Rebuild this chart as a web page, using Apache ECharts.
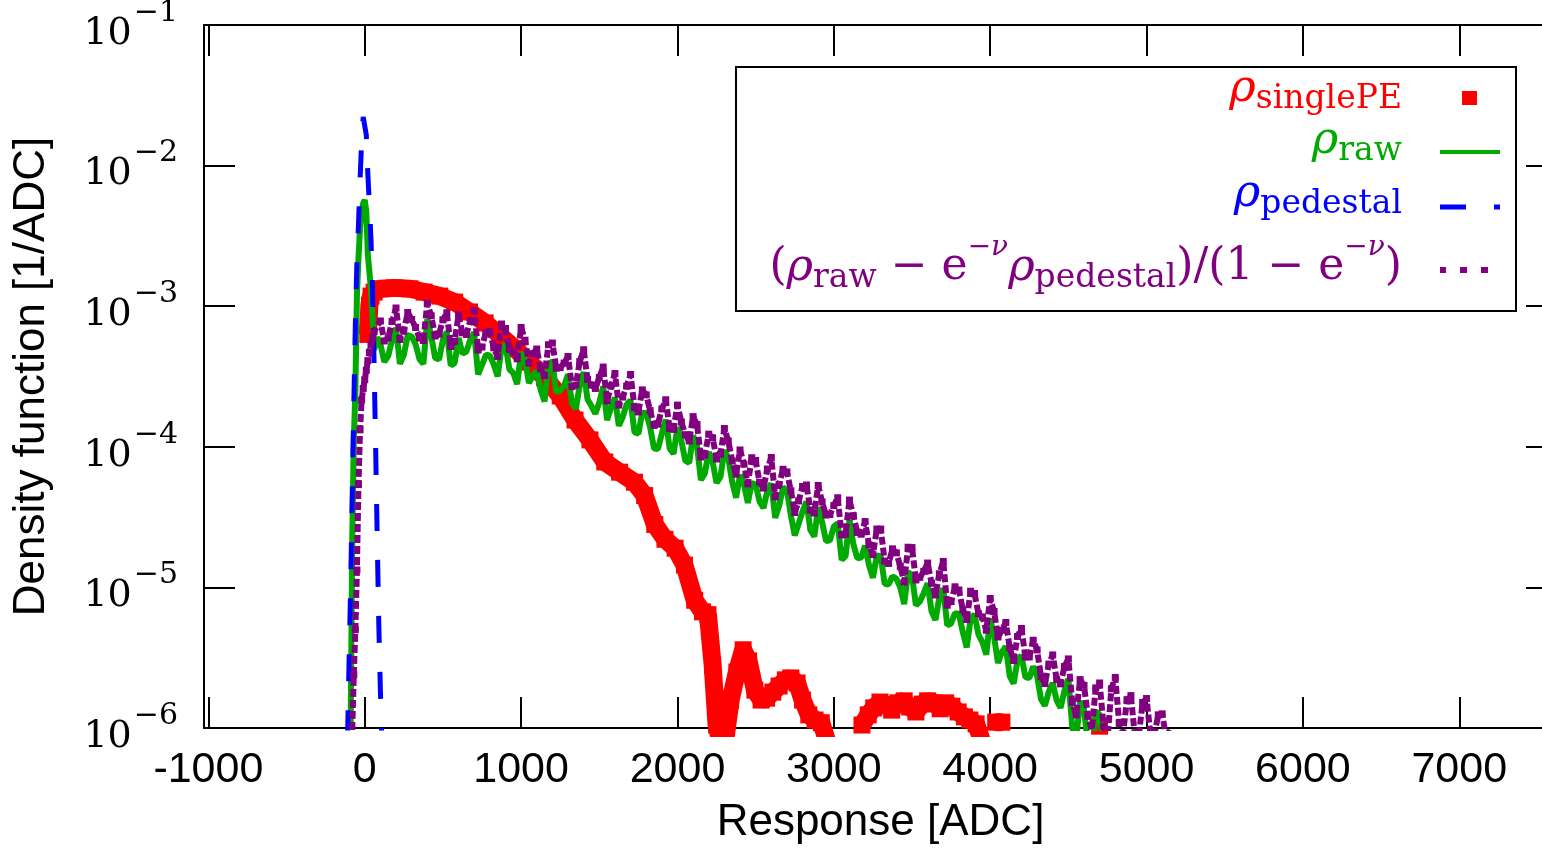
<!DOCTYPE html>
<html>
<head>
<meta charset="utf-8">
<script src="https://cdn.jsdelivr.net/npm/echarts@6.0.0/dist/echarts.min.js"></script>
<style>
html, body { margin: 0; padding: 0; background: #fff; overflow: hidden; }
#chart { width: 1560px; height: 849px; }
</style>
</head>
<body>
<div id="chart"></div>
<script>
// tick values
const xTicks = [-1000, 0, 1000, 2000, 3000, 4000, 5000, 6000, 7000];

// rho_singlePE (big red squares)
const redX = [20, 30, 40, 60, 100, 190, 290, 380, 480, 575, 670, 770, 865, 960, 1055, 1150, 1250, 1345, 1440, 1535,
  1630, 1725, 1790, 1855, 1920, 1985, 2045, 2110, 2160, 2195, 2225, 2250, 2280, 2310, 2340, 2380, 2420, 2455, 2495, 2535,
  2570, 2610, 2650, 2690, 2725, 2765, 2800, 2840, 2880, 2920, 2955, 3000, 3180, 3220, 3255, 3295, 3335, 3370, 3410, 3450,
  3485, 3525, 3565, 3600, 3640, 3680, 3715, 3755, 3795, 3835, 3870, 3910, 3945, 3990, 4035, 4075, 4100, 4700];
const redY = [6.3e-4, 1.02e-3, 1.18e-3, 1.26e-3, 1.33e-3, 1.35e-3, 1.33e-3, 1.26e-3, 1.18e-3, 1.07e-3,
  9.1e-4, 7.6e-4, 6.2e-4, 5.0e-4, 4.0e-4, 3.1e-4, 2.3e-4, 1.55e-4, 1.12e-4, 7.8e-5,
  6.6e-5, 5.6e-5, 4.5e-5, 2.8e-5, 2.2e-5, 1.9e-5, 1.44e-5, 8.1e-6, 6.7e-6, 6.4e-6,
  2.8e-6, 1.05e-6, 7.6e-7, 8.9e-7, 1.58e-6, 2.5e-6, 3.6e-6, 3.0e-6, 1.86e-6, 1.58e-6,
  1.63e-6, 1.80e-6, 1.99e-6, 2.2e-6, 2.27e-6, 2.09e-6, 1.58e-6, 1.24e-6, 1.14e-6, 1.09e-6,
  8.2e-7, null, 1.05e-6, 1.24e-6, 1.39e-6, 1.53e-6, 1.46e-6, 1.34e-6, 1.51e-6, 1.56e-6,
  1.41e-6, 1.30e-6, 1.48e-6, 1.56e-6, 1.51e-6, 1.37e-6, 1.51e-6, 1.43e-6, 1.30e-6, 1.20e-6,
  1.14e-6, 1.07e-6, 8.2e-7, null, 1.10e-6, 1.10e-6, null, 1.03e-6];

// rho_raw (green)
const greenX = [-90, -80, -70, -60, -50, -40, -30, -20, -10, 0, 10, 20, 30, 40, 50, 60, 80,
  100, 125, 150, 175, 200, 225, 250, 275, 300, 325, 350, 375, 400, 425, 450, 475, 500, 525, 550, 575,
  600, 625, 650, 675, 700, 725, 750, 775, 800, 825, 850, 875, 900, 925, 950, 975, 1000, 1025, 1050, 1075,
  1100, 1125, 1150, 1175, 1200, 1225, 1250, 1275, 1300, 1325, 1350, 1375, 1400, 1425, 1450, 1475, 1500, 1525, 1550, 1575,
  1600, 1625, 1650, 1675, 1700, 1725, 1750, 1775, 1800, 1825, 1850, 1875, 1900, 1925, 1950, 1975, 2000, 2025, 2050, 2075,
  2100, 2125, 2150, 2175, 2200, 2225, 2250, 2275, 2300, 2325, 2350, 2375, 2400, 2425, 2450, 2475, 2500, 2525, 2550, 2575,
  2600, 2625, 2650, 2675, 2700, 2725, 2750, 2775, 2800, 2825, 2850, 2875, 2900, 2925, 2950, 2975, 3000, 3025, 3050, 3075,
  3100, 3125, 3150, 3175, 3200, 3225, 3250, 3275, 3300, 3325, 3350, 3375, 3400, 3425, 3450, 3475, 3500, 3525, 3550, 3575,
  3600, 3625, 3650, 3675, 3700, 3725, 3750, 3775, 3800, 3825, 3850, 3875, 3900, 3925, 3950, 3975, 4000, 4025, 4050, 4075,
  4100, 4125, 4150, 4175, 4200, 4225, 4250, 4275, 4300, 4325, 4350, 4375, 4400, 4425, 4450, 4475, 4500, 4525, 4550, 4575,
  4600, 4625, 4650, 4675, 4700, 4725, 4750];
const greenY = [9.7e-7, 2.2e-5, 1.1e-4, 2.5e-4, 1.2e-3, 2.2e-3, 3.6e-3, 4.7e-3, 5.4e-3, 5.7e-3,
  4.7e-3, 2.3e-3, 1.75e-3, 1.3e-3, 8.2e-4, 4.9e-4, 6.0e-4,
  5.39e-4, 4.02e-4, 4.43e-4, 5.76e-4, 7.00e-4, 3.89e-4, 4.50e-4, 6.22e-4, 6.09e-4, 5.37e-4,
  4.21e-4, 3.88e-4, 8.07e-4, 6.16e-4, 4.29e-4, 4.17e-4, 5.77e-4, 6.56e-4, 3.79e-4, 3.94e-4,
  5.94e-4, 4.59e-4, 4.76e-4, 5.79e-4, 6.51e-4, 3.27e-4, 3.82e-4, 4.51e-4, 4.46e-4, 3.85e-4,
  3.17e-4, 5.08e-4, 5.34e-4, 3.56e-4, 3.35e-4, 2.79e-4, 4.69e-4, 4.18e-4, 2.84e-4, 3.21e-4,
  3.46e-4, 2.54e-4, 2.10e-4, 3.94e-4, 4.01e-4, 2.43e-4, 2.51e-4, 2.72e-4, 3.27e-4, 2.04e-4,
  1.86e-4, 2.75e-4, 3.40e-4, 2.17e-4, 1.95e-4, 1.72e-4, 2.07e-4, 2.69e-4, 1.55e-4, 1.90e-4,
  2.24e-4, 1.41e-4, 1.63e-4, 2.00e-4, 2.14e-4, 1.27e-4, 1.24e-4, 1.75e-4, 1.74e-4, 1.38e-4,
  9.74e-5, 9.66e-5, 1.24e-4, 1.56e-4, 9.73e-5, 8.91e-5, 1.38e-4, 1.10e-4, 7.97e-5, 7.70e-5,
  1.20e-4, 1.02e-4, 5.80e-5, 6.47e-5, 9.16e-5, 7.77e-5, 5.53e-5, 6.11e-5, 9.42e-5, 8.36e-5,
  5.62e-5, 4.34e-5, 6.30e-5, 5.43e-5, 3.99e-5, 5.52e-5, 5.39e-5, 4.09e-5, 3.67e-5, 4.87e-5,
  5.48e-5, 3.12e-5, 3.80e-5, 5.12e-5, 4.93e-5, 3.26e-5, 2.34e-5, 2.84e-5, 3.47e-5, 4.07e-5,
  2.56e-5, 2.30e-5, 3.71e-5, 2.92e-5, 2.14e-5, 2.16e-5, 2.71e-5, 2.86e-5, 1.57e-5, 1.67e-5,
  3.01e-5, 2.03e-5, 1.61e-5, 1.63e-5, 1.98e-5, 1.44e-5, 1.17e-5, 1.69e-5, 1.67e-5, 1.06e-5,
  1.05e-5, 1.20e-5, 1.15e-5, 1.00e-5, 7.61e-6, 1.29e-5, 1.21e-5, 7.46e-6, 7.94e-6, 9.10e-6,
  1.07e-5, 6.74e-6, 5.86e-6, 8.50e-6, 9.82e-6, 5.38e-6, 5.54e-6, 6.57e-6, 6.47e-6, 4.79e-6,
  3.74e-6, 6.01e-6, 6.42e-6, 4.62e-6, 4.09e-6, 3.32e-6, 6.01e-6, 4.45e-6, 2.90e-6, 3.47e-6,
  3.80e-6, 2.34e-6, 2.07e-6, 3.05e-6, 3.27e-6, 2.30e-6, 2.27e-6, 2.74e-6, 2.34e-6, 1.60e-6,
  1.44e-6, 1.82e-6, 2.09e-6, 1.57e-6, 1.39e-6, 1.84e-6, 2.24e-6, 1.00e-6, 8.4e-7, 1.55e-6,
  1.36e-6, 7.6e-7, 6.5e-7, 1.31e-6, 1.25e-6, 7.4e-7, 5.5e-7];

// rho_pedestal (blue dashed)
const blueX = [-110, -100, -90, -80, -70, -60, -50, -40, -30, -20, -10, 0, 10, 20, 30, 40, 50, 60, 70, 80, 90, 100, 110];
const blueY = [8.6e-7, 3.05e-6, 1.04e-5, 4.5e-5, 1.98e-4, 7.5e-4, 2.06e-3, 3.8e-3, 7.9e-3, 1.47e-2, 2.22e-2, 2.18e-2,
  1.65e-2, 8.6e-3, 5.25e-3, 2.96e-3, 1.30e-3, 3.8e-4, 9.5e-5, 2.17e-5, 5.4e-6, 1.86e-6, 7.6e-7];

// (rho_raw - e^-nu rho_pedestal)/(1 - e^-nu) (purple dotted)
const purpleX = [-80, -70, -60, -50, -40, -30, -20, -10, 0, 10, 20, 30, 40, 50, 60,
  100, 125, 150, 175, 200, 225, 250, 275, 300, 325, 350, 375, 400, 425, 450, 475, 500, 525, 550, 575,
  600, 625, 650, 675, 700, 725, 750, 775, 800, 825, 850, 875, 900, 925, 950, 975, 1000, 1025, 1050, 1075,
  1100, 1125, 1150, 1175, 1200, 1225, 1250, 1275, 1300, 1325, 1350, 1375, 1400, 1425, 1450, 1475, 1500, 1525, 1550, 1575,
  1600, 1625, 1650, 1675, 1700, 1725, 1750, 1775, 1800, 1825, 1850, 1875, 1900, 1925, 1950, 1975, 2000, 2025, 2050, 2075,
  2100, 2125, 2150, 2175, 2200, 2225, 2250, 2275, 2300, 2325, 2350, 2375, 2400, 2425, 2450, 2475, 2500, 2525, 2550, 2575,
  2600, 2625, 2650, 2675, 2700, 2725, 2750, 2775, 2800, 2825, 2850, 2875, 2900, 2925, 2950, 2975, 3000, 3025, 3050, 3075,
  3100, 3125, 3150, 3175, 3200, 3225, 3250, 3275, 3300, 3325, 3350, 3375, 3400, 3425, 3450, 3475, 3500, 3525, 3550, 3575,
  3600, 3625, 3650, 3675, 3700, 3725, 3750, 3775, 3800, 3825, 3850, 3875, 3900, 3925, 3950, 3975, 4000, 4025, 4050, 4075,
  4100, 4125, 4150, 4175, 4200, 4225, 4250, 4275, 4300, 4325, 4350, 4375, 4400, 4425, 4450, 4475, 4500, 4525, 4550, 4575,
  4600, 4625, 4650, 4675, 4700, 4725, 4750, 4775, 4800, 4825, 4850, 4875, 4900, 4925, 4950, 4975, 5000, 5025, 5050, 5075,
  5100, 5125, 5150];
const purpleY = [9.7e-7, 2.4e-6, 5.0e-6, 1.33e-5, 5.4e-5, 1.32e-4, 2.15e-4, 2.6e-4, 3.0e-4, 3.5e-4,
  4.1e-4, 4.7e-4, 5.3e-4, 5.9e-4, 6.6e-4,
  7.85e-4, 5.66e-4, 5.94e-4, 7.78e-4, 9.71e-4, 5.80e-4, 6.66e-4, 9.02e-4, 8.04e-4, 7.06e-4,
  5.94e-4, 5.70e-4, 1.05e-3, 8.55e-4, 6.14e-4, 6.32e-4, 8.0e-4, 8.98e-4, 5.17e-4, 5.63e-4,
  8.66e-4, 6.47e-4, 6.29e-4, 7.82e-4, 9.32e-4, 4.88e-4, 5.13e-4, 6.53e-4, 6.61e-4, 5.06e-4,
  4.39e-4, 7.47e-4, 6.94e-4, 4.94e-4, 4.72e-4, 4.23e-4, 7.06e-4, 5.73e-4, 3.94e-4, 4.59e-4,
  4.96e-4, 3.58e-4, 3.21e-4, 5.32e-4, 5.47e-4, 3.62e-4, 3.66e-4, 3.94e-4, 4.39e-4, 2.68e-4,
  2.75e-4, 4.04e-4, 4.90e-4, 3.01e-4, 2.75e-4, 2.60e-4, 3.11e-4, 3.69e-4, 2.12e-4, 2.71e-4,
  3.32e-4, 1.98e-4, 2.26e-4, 2.70e-4, 3.27e-4, 1.90e-4, 1.77e-4, 2.54e-4, 2.34e-4, 1.81e-4,
  1.42e-4, 1.45e-4, 1.86e-4, 2.16e-4, 1.35e-4, 1.33e-4, 1.98e-4, 1.50e-4, 1.22e-4, 1.10e-4,
  1.64e-4, 1.44e-4, 8.46e-5, 8.74e-5, 1.23e-4, 1.16e-4, 8.19e-5, 8.85e-5, 1.35e-4, 1.10e-4,
  7.92e-5, 6.38e-5, 9.49e-5, 7.54e-5, 5.44e-5, 8.36e-5, 7.99e-5, 5.60e-5, 5.09e-5, 6.95e-5,
  8.39e-5, 4.40e-5, 5.40e-5, 6.92e-5, 6.62e-5, 4.87e-5, 3.41e-5, 4.12e-5, 5.22e-5, 5.35e-5,
  3.55e-5, 3.38e-5, 5.31e-5, 4.05e-5, 3.27e-5, 3.30e-5, 3.82e-5, 4.34e-5, 2.36e-5, 2.39e-5,
  4.18e-5, 3.23e-5, 2.46e-5, 2.39e-5, 2.94e-5, 2.00e-5, 1.71e-5, 2.60e-5, 2.60e-5, 1.54e-5,
  1.48e-5, 1.88e-5, 1.76e-5, 1.41e-5, 1.09e-5, 1.93e-5, 1.92e-5, 1.13e-5, 1.18e-5, 1.30e-5,
  1.49e-5, 1.07e-5, 8.83e-6, 1.25e-5, 1.53e-5, 7.47e-6, 7.94e-6, 1.01e-5, 9.58e-6, 6.94e-6,
  5.91e-6, 9.39e-6, 9.05e-6, 6.50e-6, 6.16e-6, 4.96e-6, 8.34e-6, 6.74e-6, 4.44e-6, 4.96e-6,
  5.63e-6, 3.72e-6, 3.02e-6, 4.48e-6, 5.10e-6, 3.20e-6, 3.20e-6, 4.21e-6, 3.59e-6, 2.32e-6,
  2.07e-6, 2.85e-6, 3.31e-6, 2.21e-6, 2.06e-6, 2.74e-6, 3.10e-6, 1.52e-6, 1.24e-6, 2.21e-6,
  2.01e-6, 1.21e-6, 9.7e-7, 1.93e-6, 2.09e-6, 1.03e-6, 8.2e-7, 1.90e-6, 2.29e-6, 1.08e-6,
  9.2e-7, 1.59e-6, 1.70e-6, 8.8e-7, 8.8e-7, 1.52e-6, 1.62e-6, 9.0e-7, 9.0e-7, 1.24e-6,
  1.26e-6, 8.6e-7, 9.7e-7];

const RED = '#ff0000', GREEN = '#00aa00', BLUE = '#0000ff', PURPLE = '#800080';
const SERIF = 'DejaVu Serif';
const SANS = 'Liberation Sans';

function pairs(xs, ys) {
  return xs.map((x, i) => [x, ys[i]]);
}

// rich styles for the legend formulas
function mathRich(color) {
  return {
    n: { fill: color, fontFamily: SERIF, fontSize: 44, lineHeight: 44 },
    r: { fill: color, fontFamily: SERIF, fontStyle: 'italic', fontSize: 45, lineHeight: 45 },
    s: { fill: color, fontFamily: SERIF, fontSize: 33, lineHeight: 33, padding: [20, 0, 0, 0] },
    p: { fill: color, fontFamily: SERIF, fontSize: 28, lineHeight: 28, padding: [0, 0, 40, 0] },
    q: { fill: color, fontFamily: SERIF, fontStyle: 'italic', fontSize: 28, lineHeight: 28, padding: [0, 0, 40, 0] }
  };
}

const chart = echarts.init(document.getElementById('chart'));

const frameLine = { show: true, onZero: false, lineStyle: { color: '#000', width: 2 } };
const frameTick = { show: true, inside: true, length: 31, lineStyle: { color: '#000', width: 2 } };

const option = {
  animation: false,
  backgroundColor: '#fff',
  grid: { left: 204, top: 25, right: 3, bottom: 121, containLabel: false, outerBoundsMode: 'none' },
  xAxis: [
    {
      type: 'value', position: 'bottom', min: -1028, max: 7625,
      axisLine: frameLine,
      axisTick: Object.assign({ customValues: xTicks }, frameTick),
      axisLabel: {
        customValues: xTicks, margin: 21, color: '#000',
        fontFamily: SANS, fontSize: 43,
        formatter: v => String(v)
      },
      splitLine: { show: false },
      name: 'Response [ADC]', nameLocation: 'middle', nameGap: 73,
      nameTextStyle: { fontFamily: SANS, fontSize: 44, color: '#000' }
    },
    {
      type: 'value', position: 'top', min: -1028, max: 7625,
      axisLine: frameLine,
      axisTick: Object.assign({ customValues: xTicks }, frameTick),
      axisLabel: { show: false },
      splitLine: { show: false }
    }
  ],
  yAxis: [
    {
      type: 'log', logBase: 10, position: 'left', min: 1e-6, max: 1e-1,
      axisLine: frameLine,
      axisTick: frameTick,
      axisLabel: {
        margin: 26,
        formatter: v => '{b|10}{s|\u2212' + Math.round(-Math.log10(v)) + '}',
        rich: {
          b: { fontFamily: SERIF, fontSize: 38, lineHeight: 38, color: '#000', padding: [18, 0, 0, 0] },
          s: { fontFamily: SERIF, fontSize: 30, lineHeight: 30, color: '#000', padding: [0, 0, 24, 2] }
        }
      },
      splitLine: { show: false },
      name: 'Density function [1/ADC]', nameLocation: 'middle', nameGap: 150,
      nameTextStyle: { fontFamily: SANS, fontSize: 44, color: '#000' }
    },
    {
      type: 'log', logBase: 10, position: 'right', min: 1e-6, max: 1e-1,
      axisLine: frameLine,
      axisTick: frameTick,
      axisLabel: { show: false },
      splitLine: { show: false }
    }
  ],
  series: [
    {
      name: 'singlePE', type: 'line', data: pairs(redX, redY),
      symbol: 'rect', symbolSize: 17, showSymbol: true, showAllSymbol: true,
      itemStyle: { color: RED },
      lineStyle: { color: RED, width: 18, cap: 'butt', join: 'bevel' },
      clip: true, silent: true, z: 1
    },
    {
      name: 'raw', type: 'line', data: pairs(greenX, greenY),
      showSymbol: false,
      lineStyle: { color: GREEN, width: 6, join: 'bevel' },
      clip: true, silent: true, z: 2
    },
    {
      name: 'pedestal', type: 'line', data: pairs(blueX, blueY),
      showSymbol: false,
      lineStyle: { color: BLUE, width: 5, type: [27, 29] },
      clip: true, silent: true, z: 3
    },
    {
      name: 'corrected', type: 'line', data: pairs(purpleX, purpleY),
      symbol: 'rect', symbolSize: 7, showSymbol: true, showAllSymbol: true,
      itemStyle: { color: PURPLE },
      lineStyle: { color: PURPLE, width: 6, type: [8, 3], join: 'bevel' },
      clip: true, silent: true, z: 4
    }
  ],
  graphic: [
    {
      type: 'rect', z: 100,
      shape: { x: 736, y: 67, width: 780, height: 244 },
      style: { fill: '#fff', stroke: '#000', lineWidth: 2 }
    },
    {
      type: 'text', z: 101, x: 1402, y: 89,
      style: { text: '{r|\u03c1}{s|singlePE}', align: 'right', verticalAlign: 'middle', rich: mathRich(RED) }
    },
    {
      type: 'rect', z: 101,
      shape: { x: 1462, y: 91, width: 15, height: 14 },
      style: { fill: RED }
    },
    {
      type: 'text', z: 101, x: 1402, y: 141,
      style: { text: '{r|\u03c1}{s|raw}', align: 'right', verticalAlign: 'middle', rich: mathRich(GREEN) }
    },
    {
      type: 'line', z: 101,
      shape: { x1: 1440, y1: 152, x2: 1500, y2: 152 },
      style: { stroke: GREEN, lineWidth: 4 }
    },
    {
      type: 'text', z: 101, x: 1402, y: 194,
      style: { text: '{r|\u03c1}{s|pedestal}', align: 'right', verticalAlign: 'middle', rich: mathRich(BLUE) }
    },
    {
      type: 'line', z: 101,
      shape: { x1: 1440, y1: 207, x2: 1466, y2: 207 },
      style: { stroke: BLUE, lineWidth: 5 }
    },
    {
      type: 'line', z: 101,
      shape: { x1: 1494, y1: 207, x2: 1500, y2: 207 },
      style: { stroke: BLUE, lineWidth: 5 }
    },
    {
      type: 'text', z: 101, x: 1402, y: 268,
      style: {
        text: '{n|(}{r|\u03c1}{s|raw}{n| \u2212 e}{p|\u2212}{q|\u03bd}{r|\u03c1}{s|pedestal}{n|)/(1 \u2212 e}{p|\u2212}{q|\u03bd}{n|)}',
        align: 'right', verticalAlign: 'middle', rich: mathRich(PURPLE)
      }
    },
    { type: 'rect', z: 101, shape: { x: 1440, y: 267, width: 6, height: 6 }, style: { fill: PURPLE } },
    { type: 'rect', z: 101, shape: { x: 1460, y: 267, width: 7, height: 6 }, style: { fill: PURPLE } },
    { type: 'rect', z: 101, shape: { x: 1481, y: 267, width: 7, height: 6 }, style: { fill: PURPLE } }
  ]
};

chart.setOption(option);
</script>
</body>
</html>
